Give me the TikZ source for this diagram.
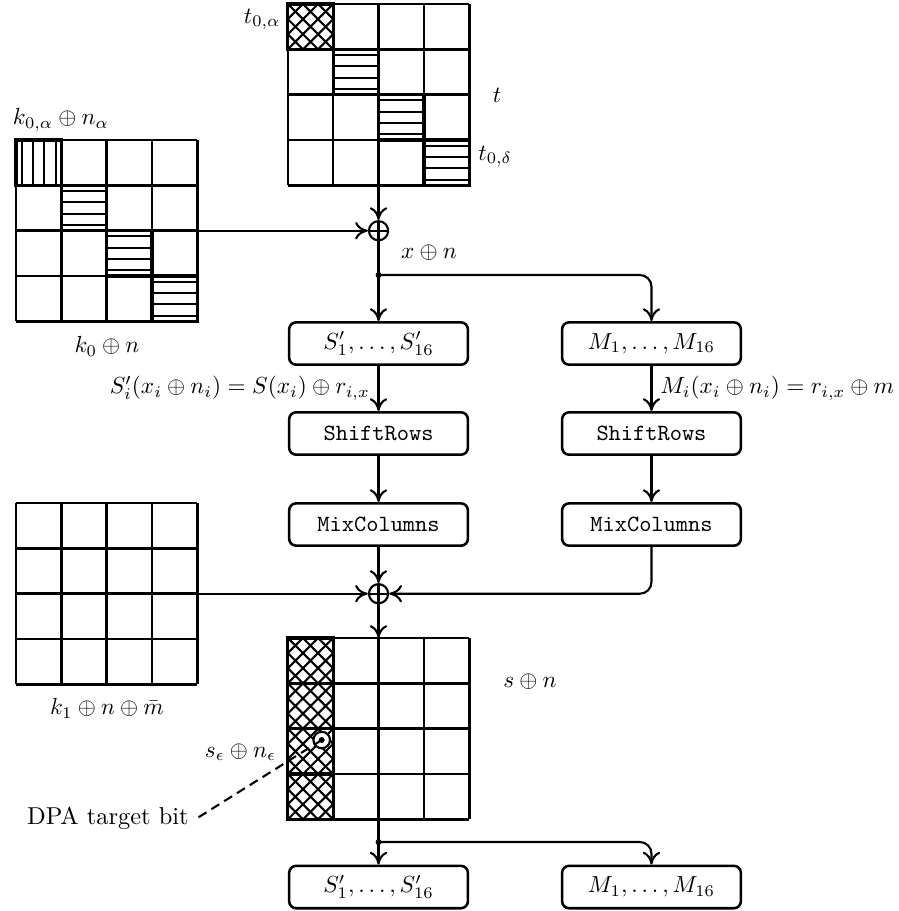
\documentclass[tikz,border=0pt]{standalone}
\usetikzlibrary{positioning,calc,arrows.meta}

\def\cw{0.685}
\tikzset{
  mat/.style={minimum size=2.74cm, inner sep=0pt, outer sep=0pt},
  gridline/.style={line width=1.1pt},
  cellframe/.style={line width=1.4pt},
  hatch/.style={line width=0.9pt},
  op/.style={draw, line width=1.1pt, rounded corners=3pt, minimum width=2.7cm, minimum height=0.64cm},
  xorop/.style={circle, draw, line width=0.9pt, inner sep=0pt, minimum size=0.29cm,
    path picture={\draw[line width=0.9pt] (path picture bounding box.north) -- (path picture bounding box.south)
      (path picture bounding box.west) -- (path picture bounding box.east);}},
  conn/.style={line width=0.9pt, -{To[length=5.5pt,width=7.5pt]}},
}
% hatched cells, #1/#2 = top left corner
\newcommand{\crosscell}[2]{%
  \begin{scope}
    \clip (#1,#2) rectangle ++(\cw,-\cw);
    \foreach \q in {-3,...,3}
      \draw[hatch] (#1+\q*\cw/3,#2) -- ++(\cw,-\cw) (#1+\q*\cw/3,#2-\cw) -- ++(\cw,\cw);
  \end{scope}
  \draw[cellframe] (#1,#2) rectangle ++(\cw,-\cw);}
\newcommand{\rowcell}[2]{%
  \foreach \q in {0,...,3}
    \draw[hatch] (#1,#2-\q*\cw/4-\cw/8) -- ++(\cw,0);
  \draw[cellframe] (#1,#2) rectangle ++(\cw,-\cw);}
\newcommand{\colcell}[2]{%
  \foreach \q in {0,...,3}
    \draw[hatch] (#1+\q*\cw/4+\cw/8,#2) -- ++(0,-\cw);
  \draw[cellframe] (#1,#2) rectangle ++(\cw,-\cw);}

\begin{document}
\begin{tikzpicture}
\useasboundingbox (0,0) rectangle (13.565,-13.761);

% state matrices
\node[mat] (tmat) at (5.718,-1.430) {};
\node[mat] (kmat0) at (1.612,-3.485) {};
\node[mat] (kmat1) at (1.612,-8.968) {};
\node[mat] (smat) at (5.718,-11.007) {};
\foreach \m in {tmat,kmat0,kmat1,smat} {
  \begin{scope}[shift={(\m.north west)}]
    \foreach \i in {0,...,4}
      \draw[gridline] (\i*\cw,0) -- (\i*\cw,-4*\cw) (0,-\i*\cw) -- (4*\cw,-\i*\cw);
  \end{scope}
}
\begin{scope}[shift={(tmat.north west)}]
  \crosscell{0}{0}
  \foreach \i in {1,2,3} {\rowcell{\i*\cw}{-\i*\cw}}
\end{scope}
\begin{scope}[shift={(kmat0.north west)}]
  \colcell{0}{0}
  \foreach \i in {1,2,3} {\rowcell{\i*\cw}{-\i*\cw}}
\end{scope}
\begin{scope}[shift={(smat.north west)}]
  \foreach \i in {0,...,3} {\crosscell{0}{-\i*\cw}}
\end{scope}

% matrix labels
\node (lta) at (3.96,-0.29) {$t_{0,\alpha}$};
\node (lt) at (7.51,-1.435) {$t$};
\node (ltd) at (7.48,-2.36) {$t_{0,\delta}$};
\node (lka) at (0.92,-1.81) {$k_{0,\alpha}\oplus n_\alpha$};
\node (lk0) at (1.616,-5.23) {$k_0\oplus n$};
\node (lk1) at (1.616,-10.70) {$k_1\oplus n\oplus\bar{m}$};
\node (lsn) at (8.006,-10.30) {$s\oplus n$};
\node (lse) at (3.633,-11.36) {$s_\epsilon\oplus n_\epsilon$};
\node[font=\fontsize{10.5}{12}\selectfont] (dpa) at (1.63,-12.36) {DPA target bit};

% operations
\node[xorop] (xor1) at (5.718,-3.485) {};
\node[xorop] (xor2) at (5.718,-8.968) {};
\coordinate (fork1) at (5.718,-4.154);
\coordinate (fork2) at (5.718,-12.719);
\node[op] (sub1) at (5.718,-5.189) {$S'_1,\ldots,S'_{16}$};
\node[op] (msk1) at (9.841,-5.189) {$M_1,\ldots,M_{16}$};
\node[op] (shr1) at (5.718,-6.548) {\texttt{ShiftRows}};
\node[op] (shr2) at (9.841,-6.548) {\texttt{ShiftRows}};
\node[op] (mix1) at (5.718,-7.923) {\texttt{MixColumns}};
\node[op] (mix2) at (9.841,-7.923) {\texttt{MixColumns}};
\node[op] (sub2) at (5.718,-13.399) {$S'_1,\ldots,S'_{16}$};
\node[op] (msk2) at (9.841,-13.399) {$M_1,\ldots,M_{16}$};
\node (lxn) at (6.48,-3.81) {$x\oplus n$};

% connectors
\draw[conn] (tmat.south) -- (xor1);
\draw[conn] (kmat0.east) -- (xor1);
\draw[conn] (xor1) -- (sub1);
\fill (fork1) circle (0.045);
\draw[conn, rounded corners=5pt] (fork1) -| (msk1.north);
\draw[conn] (sub1) -- node[left] {$S'_i(x_i\oplus n_i)=S(x_i)\oplus r_{i,x}$} (shr1);
\draw[conn] (msk1) -- node[right] {$M_i(x_i\oplus n_i)=r_{i,x}\oplus m$} (shr2);
\draw[conn] (shr1) -- (mix1);
\draw[conn] (shr2) -- (mix2);
\draw[conn] (mix1) -- (xor2);
\draw[conn, rounded corners=5pt] (mix2.south) |- (xor2);
\draw[conn] (kmat1.east) -- (xor2);
\draw[conn] (xor2) -- (smat.north);
\draw[line width=0.9pt] (smat.south) -- (fork2);
\fill (fork2) circle (0.045);
\draw[conn] (fork2) -- (sub2);
\draw[conn, rounded corners=5pt] (fork2) -| (msk2.north);

% target bit
\node[circle, draw, line width=0.9pt, fill=white, minimum size=0.25cm, inner sep=0pt] (tgt) at (4.860,-11.178) {};
\fill (tgt.center) circle (0.045);
\draw[line width=0.9pt, dash pattern=on 4pt off 2.5pt] (tgt.center) -- (dpa.east);
\end{tikzpicture}
\end{document}
